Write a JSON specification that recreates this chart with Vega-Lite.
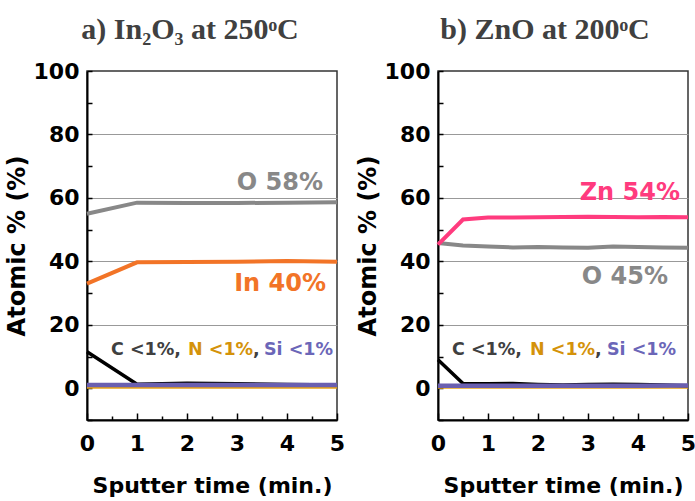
{
  "$schema": "https://vega.github.io/schema/vega-lite/v6.json",
  "padding": {"left": 4, "top": 14, "right": 2, "bottom": 2},
  "spacing": 8,
  "config": {
    "view": {"stroke": "#333333", "strokeWidth": 1.5},
    "font": "DejaVu Sans",
    "axis": {
      "domainColor": "#000000",
      "domainWidth": 2,
      "tickColor": "#000000",
      "tickWidth": 1.5,
      "labelFont": "DejaVu Sans",
      "labelFontWeight": "bold",
      "labelFontSize": 22,
      "labelColor": "#000000",
      "labelFlush": false,
      "labelBound": false,
      "titleFont": "DejaVu Sans",
      "titleFontWeight": "bold",
      "titleColor": "#000000"
    },
    "title": {"font": "Liberation Serif", "fontWeight": "bold", "fontSize": 30, "color": "#404040", "anchor": "middle", "offset": 15}
  },
  "datasets": {
    "a": [
      {"el": "N", "t": 0, "v": 0.2}, {"el": "N", "t": 1, "v": 0.2}, {"el": "N", "t": 2, "v": 0.2}, {"el": "N", "t": 3, "v": 0.2}, {"el": "N", "t": 4, "v": 0.2}, {"el": "N", "t": 5, "v": 0.2},
      {"el": "C", "t": 0, "v": 11.5}, {"el": "C", "t": 1, "v": 1.3}, {"el": "C", "t": 2, "v": 1.6}, {"el": "C", "t": 3, "v": 1.4}, {"el": "C", "t": 4, "v": 1.2}, {"el": "C", "t": 5, "v": 1.0},
      {"el": "Si", "t": 0, "v": 1.0}, {"el": "Si", "t": 1, "v": 1.0}, {"el": "Si", "t": 2, "v": 1.0}, {"el": "Si", "t": 3, "v": 1.0}, {"el": "Si", "t": 4, "v": 1.0}, {"el": "Si", "t": 5, "v": 1.0},
      {"el": "O", "t": 0, "v": 55.0}, {"el": "O", "t": 1, "v": 58.5}, {"el": "O", "t": 2, "v": 58.4}, {"el": "O", "t": 3, "v": 58.4}, {"el": "O", "t": 4, "v": 58.5}, {"el": "O", "t": 5, "v": 58.6},
      {"el": "In", "t": 0, "v": 33.0}, {"el": "In", "t": 1, "v": 39.7}, {"el": "In", "t": 2, "v": 39.8}, {"el": "In", "t": 3, "v": 39.9}, {"el": "In", "t": 4, "v": 40.1}, {"el": "In", "t": 5, "v": 39.9}
    ],
    "b": [
      {"el": "N", "t": 0, "v": 0.2}, {"el": "N", "t": 1, "v": 0.2}, {"el": "N", "t": 2, "v": 0.2}, {"el": "N", "t": 3, "v": 0.2}, {"el": "N", "t": 4, "v": 0.2}, {"el": "N", "t": 5, "v": 0.2},
      {"el": "C", "t": 0, "v": 9.0}, {"el": "C", "t": 0.5, "v": 1.5}, {"el": "C", "t": 1, "v": 1.4}, {"el": "C", "t": 1.5, "v": 1.5}, {"el": "C", "t": 2, "v": 1.2}, {"el": "C", "t": 2.5, "v": 1.0}, {"el": "C", "t": 3, "v": 1.2}, {"el": "C", "t": 3.5, "v": 1.3}, {"el": "C", "t": 4, "v": 1.2}, {"el": "C", "t": 4.5, "v": 1.0}, {"el": "C", "t": 5, "v": 0.8},
      {"el": "Si", "t": 0, "v": 0.8}, {"el": "Si", "t": 1, "v": 0.8}, {"el": "Si", "t": 2, "v": 0.8}, {"el": "Si", "t": 3, "v": 0.8}, {"el": "Si", "t": 4, "v": 0.8}, {"el": "Si", "t": 5, "v": 0.9},
      {"el": "O", "t": 0, "v": 45.8}, {"el": "O", "t": 0.5, "v": 45.0}, {"el": "O", "t": 1, "v": 44.7}, {"el": "O", "t": 1.5, "v": 44.4}, {"el": "O", "t": 2, "v": 44.5}, {"el": "O", "t": 2.5, "v": 44.4}, {"el": "O", "t": 3, "v": 44.3}, {"el": "O", "t": 3.5, "v": 44.7}, {"el": "O", "t": 4, "v": 44.5}, {"el": "O", "t": 4.5, "v": 44.4}, {"el": "O", "t": 5, "v": 44.3},
      {"el": "Zn", "t": 0, "v": 45.3}, {"el": "Zn", "t": 0.5, "v": 53.2}, {"el": "Zn", "t": 1, "v": 53.8}, {"el": "Zn", "t": 1.5, "v": 53.8}, {"el": "Zn", "t": 2, "v": 53.9}, {"el": "Zn", "t": 2.5, "v": 54.0}, {"el": "Zn", "t": 3, "v": 54.1}, {"el": "Zn", "t": 3.5, "v": 54.0}, {"el": "Zn", "t": 4, "v": 53.9}, {"el": "Zn", "t": 4.5, "v": 54.0}, {"el": "Zn", "t": 5, "v": 53.9}
    ],
    "labA": [
      {"el": "O", "text": "O 58%", "t": 4.72, "v": 64.6},
      {"el": "In", "text": "In 40%", "t": 4.78, "v": 32.9}
    ],
    "minorA": [
      {"el": "C", "text": "C <1%,", "t": 0.48, "v": 12},
      {"el": "N", "text": "N <1%", "t": 2.02, "v": 12},
      {"el": "C", "text": ",", "t": 3.32, "v": 12},
      {"el": "Si", "text": "Si <1%", "t": 3.54, "v": 12}
    ],
    "labB": [
      {"el": "Zn", "text": "Zn 54%", "t": 4.84, "v": 61.4},
      {"el": "O", "text": "O 45%", "t": 4.6, "v": 35.1}
    ],
    "minorB": [
      {"el": "C", "text": "C <1%,", "t": 0.28, "v": 12},
      {"el": "N", "text": "N <1%", "t": 1.84, "v": 12},
      {"el": "C", "text": ",", "t": 3.14, "v": 12},
      {"el": "Si", "text": "Si <1%", "t": 3.38, "v": 12}
    ]
  },
  "hconcat": [
    {
      "width": 250,
      "height": 349,
      "title": {"text": "a) In₂O₃ at 250ᵒC", "dx": -22},
      "encoding": {
        "x": {"field": "t", "type": "quantitative", "scale": {"domain": [0, 5], "nice": false, "zero": false},
          "axis": {"values": [0, 0.5, 1, 1.5, 2, 2.5, 3, 3.5, 4, 4.5, 5], "labelExpr": "datum.value % 1 == 0 ? format(datum.value, 'd') : ''", "grid": false,
            "tickSize": {"condition": {"test": "datum.value % 1 == 0", "value": -7}, "value": -4}, "labelPadding": 20, "title": "Sputter time (min.)", "titleFontSize": 22, "titlePadding": 21}},
        "y": {"field": "v", "type": "quantitative", "scale": {"domain": [-10, 100], "nice": false, "zero": false},
          "axis": {"values": [-10, 0, 10, 20, 30, 40, 50, 60, 70, 80, 90, 100], "labelExpr": "datum.value >= 0 && datum.value % 20 == 0 ? datum.label : ''",
            "grid": true, "gridColor": "#999999", "gridWidth": 1,
            "gridOpacity": {"condition": {"test": "datum.value > 0 && datum.value < 100 && datum.value % 20 == 0", "value": 1}, "value": 0},
            "tickSize": -5, "labelPadding": 13, "title": "Atomic % (%)", "titleFontSize": 24, "titlePadding": 4}}
      },
      "layer": [
        {"data": {"name": "a"}, "transform": [{"filter": "datum.el == 'N'"}], "mark": {"type": "line", "strokeWidth": 2},
          "encoding": {"stroke": {"field": "el", "type": "nominal", "scale": {"domain": ["O", "In", "Zn", "C", "N", "Si"], "range": ["#888888", "#F27427", "#FF3B7E", "#000000", "#E8A317", "#6A5FB0"]}, "legend": null}}},
        {"data": {"name": "a"}, "transform": [{"filter": "datum.el == 'C'"}], "mark": {"type": "line", "strokeWidth": 3.5},
          "encoding": {"stroke": {"field": "el", "type": "nominal", "legend": null}}},
        {"data": {"name": "a"}, "transform": [{"filter": "datum.el == 'Si'"}], "mark": {"type": "line", "strokeWidth": 4.5},
          "encoding": {"stroke": {"field": "el", "type": "nominal", "legend": null}}},
        {"data": {"name": "a"}, "transform": [{"filter": "datum.el == 'O' || datum.el == 'In'"}], "mark": {"type": "line", "strokeWidth": 4},
          "encoding": {"stroke": {"field": "el", "type": "nominal", "legend": null}}},
        {"data": {"name": "labA"}, "mark": {"type": "text", "align": "right", "baseline": "middle", "font": "DejaVu Sans", "fontWeight": "bold", "fontSize": 24},
          "encoding": {"text": {"field": "text"}, "fill": {"field": "el", "type": "nominal", "scale": {"domain": ["O", "In", "Zn", "C", "N", "Si"], "range": ["#888888", "#F27427", "#FF3B7E", "#404040", "#D4920A", "#6B66B8"]}, "legend": null}}},
        {"data": {"name": "minorA"}, "mark": {"type": "text", "align": "left", "baseline": "middle", "font": "DejaVu Sans", "fontWeight": "bold", "fontSize": 17.5},
          "encoding": {"text": {"field": "text"}, "fill": {"field": "el", "type": "nominal", "legend": null}}}
      ]
    },
    {
      "width": 250,
      "height": 349,
      "title": {"text": "b) ZnO at 200ᵒC", "dx": -18},
      "encoding": {
        "x": {"field": "t", "type": "quantitative", "scale": {"domain": [0, 5], "nice": false, "zero": false},
          "axis": {"values": [0, 0.5, 1, 1.5, 2, 2.5, 3, 3.5, 4, 4.5, 5], "labelExpr": "datum.value % 1 == 0 ? format(datum.value, 'd') : ''", "grid": false,
            "tickSize": {"condition": {"test": "datum.value % 1 == 0", "value": -7}, "value": -4}, "labelPadding": 20, "title": "Sputter time (min.)", "titleFontSize": 22, "titlePadding": 21}},
        "y": {"field": "v", "type": "quantitative", "scale": {"domain": [-10, 100], "nice": false, "zero": false},
          "axis": {"values": [-10, 0, 10, 20, 30, 40, 50, 60, 70, 80, 90, 100], "labelExpr": "datum.value >= 0 && datum.value % 20 == 0 ? datum.label : ''",
            "grid": true, "gridColor": "#999999", "gridWidth": 1,
            "gridOpacity": {"condition": {"test": "datum.value > 0 && datum.value < 100 && datum.value % 20 == 0", "value": 1}, "value": 0},
            "tickSize": -5, "labelPadding": 13, "title": "Atomic % (%)", "titleFontSize": 24, "titlePadding": 4}}
      },
      "layer": [
        {"data": {"name": "b"}, "transform": [{"filter": "datum.el == 'N'"}], "mark": {"type": "line", "strokeWidth": 2},
          "encoding": {"stroke": {"field": "el", "type": "nominal", "scale": {"domain": ["O", "In", "Zn", "C", "N", "Si"], "range": ["#888888", "#F27427", "#FF3B7E", "#000000", "#E8A317", "#6A5FB0"]}, "legend": null}}},
        {"data": {"name": "b"}, "transform": [{"filter": "datum.el == 'C'"}], "mark": {"type": "line", "strokeWidth": 3.5},
          "encoding": {"stroke": {"field": "el", "type": "nominal", "legend": null}}},
        {"data": {"name": "b"}, "transform": [{"filter": "datum.el == 'Si'"}], "mark": {"type": "line", "strokeWidth": 4.5},
          "encoding": {"stroke": {"field": "el", "type": "nominal", "legend": null}}},
        {"data": {"name": "b"}, "transform": [{"filter": "datum.el == 'O' || datum.el == 'Zn'"}], "mark": {"type": "line", "strokeWidth": 4},
          "encoding": {"stroke": {"field": "el", "type": "nominal", "legend": null}}},
        {"data": {"name": "labB"}, "mark": {"type": "text", "align": "right", "baseline": "middle", "font": "DejaVu Sans", "fontWeight": "bold", "fontSize": 24},
          "encoding": {"text": {"field": "text"}, "fill": {"field": "el", "type": "nominal", "scale": {"domain": ["O", "In", "Zn", "C", "N", "Si"], "range": ["#888888", "#F27427", "#FF3B7E", "#404040", "#D4920A", "#6B66B8"]}, "legend": null}}},
        {"data": {"name": "minorB"}, "mark": {"type": "text", "align": "left", "baseline": "middle", "font": "DejaVu Sans", "fontWeight": "bold", "fontSize": 17.5},
          "encoding": {"text": {"field": "text"}, "fill": {"field": "el", "type": "nominal", "legend": null}}}
      ]
    }
  ]
}
